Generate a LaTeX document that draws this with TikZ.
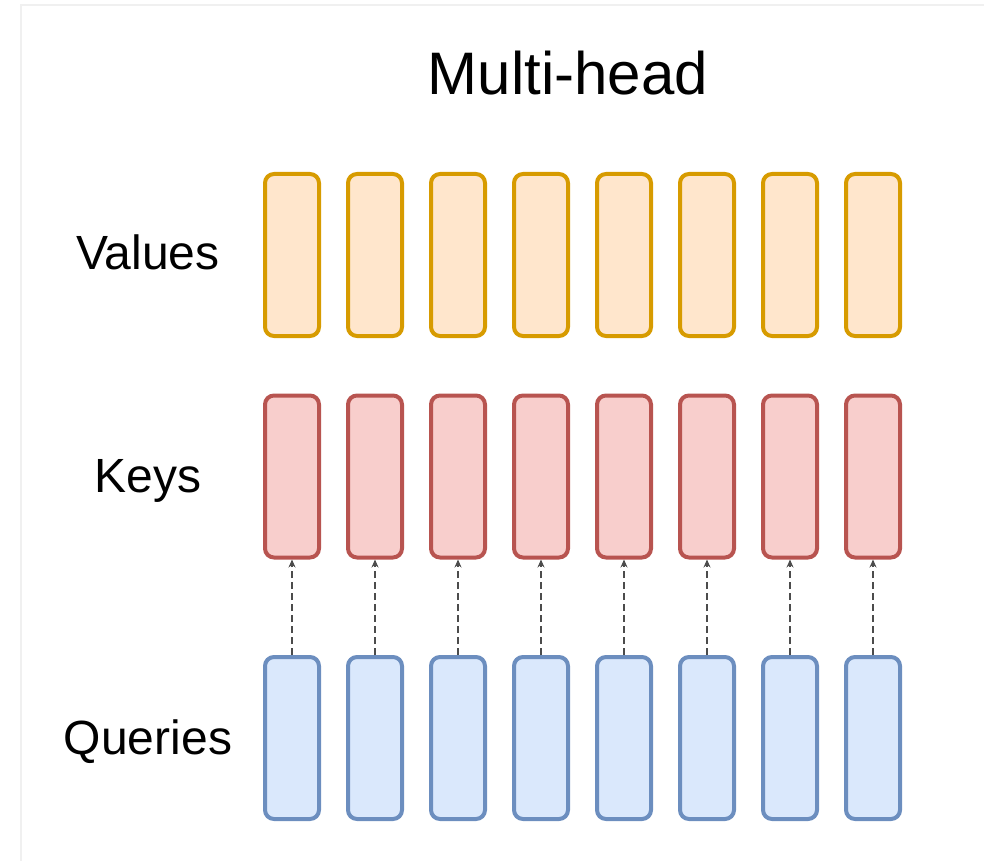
\documentclass[tikz,border=0pt]{standalone}
\usepackage{fontspec}
\setmainfont{Liberation Sans}
\usetikzlibrary{arrows.meta}
\definecolor{valfill}{HTML}{FFE6CC}
\definecolor{valdraw}{HTML}{D79B00}
\definecolor{keyfill}{HTML}{F8CECC}
\definecolor{keydraw}{HTML}{B85450}
\definecolor{qryfill}{HTML}{DAE8FC}
\definecolor{qrydraw}{HTML}{6C8EBF}
\tikzset{
  headbox/.style={rectangle, rounded corners=9pt, line width=4pt,
    minimum width=54pt, minimum height=162pt, inner sep=0pt},
  rowlabel/.style={anchor=base, font=\fontsize{48}{58}\selectfont},
  linkarrow/.style={-{Stealth[length=8pt,width=7pt]}, line width=1.8pt,
    draw=black!70, dash pattern=on 7pt off 4pt}
}
\begin{document}
\begin{tikzpicture}[x=1pt,y=-1pt]
\useasboundingbox (0,0) rectangle (984,861);
\draw[gray!12, line width=1.5pt] (21,861) -- (21,5) -- (984,5);
\node[anchor=base, font=\fontsize{60}{72}\selectfont] (title) at (568,95) {Multi-head};
\node[rowlabel] (vlabel) at (148,269) {Values};
\node[rowlabel] (klabel) at (148,492) {Keys};
\node[rowlabel] (qlabel) at (148,754) {Queries};
\foreach \i in {0,...,7} {
  \node[headbox, draw=valdraw, fill=valfill] (v\i) at (292+83*\i,255) {};
  \node[headbox, draw=keydraw, fill=keyfill] (k\i) at (292+83*\i,476.5) {};
  \node[headbox, draw=qrydraw, fill=qryfill] (q\i) at (292+83*\i,738) {};
  \draw[linkarrow] (q\i.north) -- (k\i.south);
}
\end{tikzpicture}
\end{document}
